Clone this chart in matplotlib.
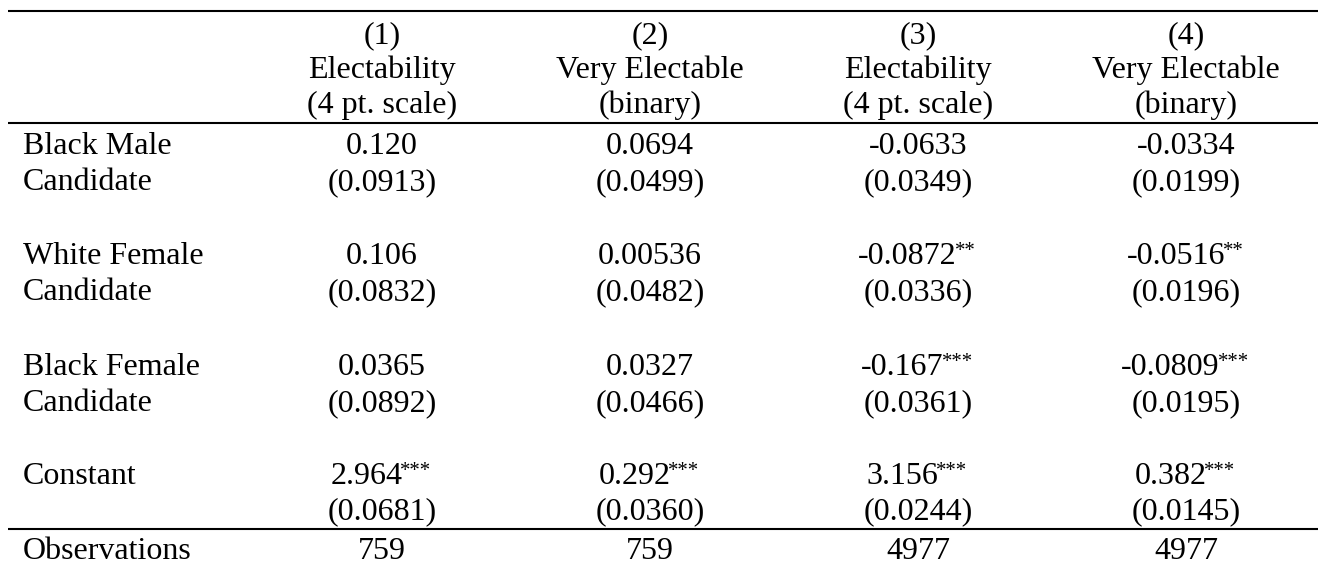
import matplotlib
matplotlib.use("Agg")
import matplotlib.pyplot as plt

# Table contents
col_numbers = ["(1)", "(2)", "(3)", "(4)"]
col_outcomes = ["Electability", "Very Electable", "Electability", "Very Electable"]
col_scales = ["(4 pt. scale)", "(binary)", "(4 pt. scale)", "(binary)"]

row_labels = [("Black Male", "Candidate"),
              ("White Female", "Candidate"),
              ("Black Female", "Candidate"),
              ("Constant", "")]

coefs = [["0.120", "0.0694", "-0.0633", "-0.0334"],
         ["0.106", "0.00536", "-0.0872", "-0.0516"],
         ["0.0365", "0.0327", "-0.167", "-0.0809"],
         ["2.964", "0.292", "3.156", "0.382"]]
stars = [["", "", "", ""],
         ["", "", "**", "**"],
         ["", "", "***", "***"],
         ["***", "***", "***", "***"]]
std_errs = [["(0.0913)", "(0.0499)", "(0.0349)", "(0.0199)"],
            ["(0.0832)", "(0.0482)", "(0.0336)", "(0.0196)"],
            ["(0.0892)", "(0.0466)", "(0.0361)", "(0.0195)"],
            ["(0.0681)", "(0.0360)", "(0.0244)", "(0.0145)"]]
observations = ["759", "759", "4977", "4977"]

# Layout (pixel coordinates)
W, H = 1318, 565
col_x = [382, 650, 918, 1186]
label_x = 23
header_y = [43, 78, 113]
coef_y = [154, 264, 375, 484]
se_y = [190, 300, 411, 519]
obs_y = 559
rules_y = [11, 123, 529]
fs = 23
font = "Liberation Serif"

fig = plt.figure(figsize=(W / 100, H / 100), dpi=100)
ax = fig.add_axes([0, 0, 1, 1])
ax.set_xlim(0, W)
ax.set_ylim(H, 0)
ax.axis("off")

for y in rules_y:
    ax.plot([8, W], [y, y], color="black", lw=1.5, solid_capstyle="butt")

def txt(x, y, s, ha="center", size=fs):
    return ax.text(x, y, s, ha=ha, va="baseline", fontsize=size, family=font)

# header
for i, x in enumerate(col_x):
    txt(x, header_y[0], col_numbers[i])
    txt(x, header_y[1], col_outcomes[i])
    txt(x, header_y[2], col_scales[i])

renderer = fig.canvas.get_renderer()

def coef_with_stars(x, y, num, st):
    t = txt(x, y, num, ha="left")
    w1 = t.get_window_extent(renderer).width
    if not st:
        t.set_position((x - w1 / 2, y))
        return
    s = txt(x, y, st, ha="left", size=fs * 0.65)
    w2 = s.get_window_extent(renderer).width
    left = x - (w1 + w2) / 2
    t.set_position((left, y))
    s.set_position((left + w1 - 2, y - 8))

for r, (l1, l2) in enumerate(row_labels):
    txt(label_x, coef_y[r], l1, ha="left")
    if l2:
        txt(label_x, se_y[r], l2, ha="left")
    for c, x in enumerate(col_x):
        coef_with_stars(x, coef_y[r], coefs[r][c], stars[r][c])
        txt(x, se_y[r], std_errs[r][c])

txt(label_x, obs_y, "Observations", ha="left")
for c, x in enumerate(col_x):
    txt(x, obs_y, observations[c])

fig.savefig("out.png", dpi=100, facecolor="white")
